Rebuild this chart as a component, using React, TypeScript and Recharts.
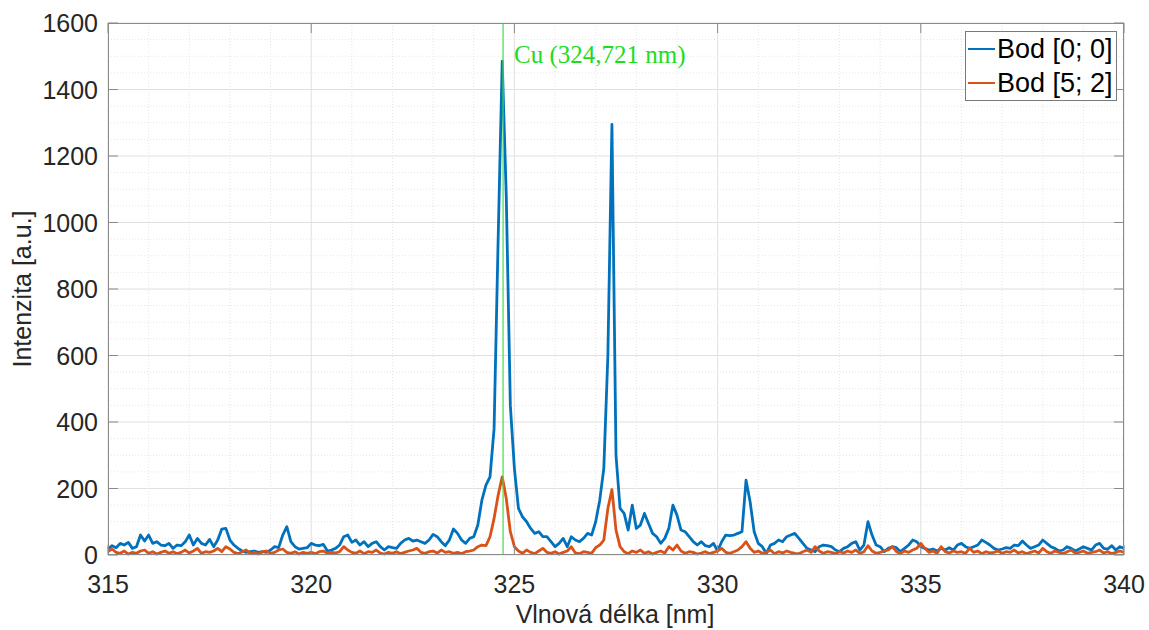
import { CartesianGrid, Line, LineChart, ReferenceLine, XAxis, YAxis } from 'recharts'

// spectrum sampled every 0.1 nm from 315 nm to 340 nm
const START_NM = 315
const STEP_NM = 0.1

const BOD_00 = [
  18, 28, 22, 35, 30, 38, 20, 25, 60, 42, // 315
  60, 35, 40, 30, 28, 35, 20, 30, 28, 40, // 316
  60, 30, 50, 35, 30, 47, 25, 45, 78, 80, // 317
  45, 30, 20, 12, 8, 10, 12, 8, 10, 8, // 318
  15, 25, 22, 60, 85, 40, 25, 18, 20, 22, // 319
  35, 30, 28, 32, 12, 15, 20, 30, 55, 60, // 320
  38, 45, 30, 40, 25, 35, 40, 25, 15, 25, // 321
  22, 20, 35, 45, 50, 42, 45, 40, 35, 45, // 322
  62, 55, 40, 28, 45, 78, 65, 45, 35, 50, // 323
  55, 90, 165, 210, 235, 380, 950, 1485, 1080, 450, // 324
  260, 140, 115, 100, 80, 65, 70, 55, 55, 40, // 325
  25, 35, 50, 25, 55, 45, 40, 50, 65, 60, // 326
  100, 165, 260, 600, 1295, 300, 140, 125, 75, 150, // 327
  80, 90, 125, 95, 65, 55, 35, 50, 80, 150, // 328
  120, 75, 70, 55, 40, 30, 40, 28, 25, 35, // 329
  12, 40, 60, 58, 60, 65, 70, 225, 160, 70, // 330
  35, 25, 5, 30, 35, 45, 40, 55, 60, 65, // 331
  50, 35, 20, 15, 10, 25, 30, 28, 25, 15, // 332
  10, 20, 25, 35, 40, 15, 30, 100, 60, 30, // 333
  25, 10, 20, 25, 22, 10, 20, 30, 45, 40, // 334
  25, 20, 15, 18, 12, 20, 15, 22, 15, 30, // 335
  35, 25, 20, 25, 30, 45, 38, 30, 20, 15, // 336
  18, 22, 20, 30, 28, 42, 30, 20, 25, 30, // 337
  45, 35, 25, 20, 12, 15, 25, 20, 12, 18, // 338
  25, 20, 15, 30, 35, 20, 18, 28, 15, 25, // 339
  20, // 340
]

const BOD_52 = [
  10, 18, 8, 5, 12, 3, 8, 5, 12, 15, // 315
  5, 10, 3, 8, 12, 5, 10, 4, 8, 15, // 316
  6, 12, 20, 5, 10, 8, 12, 20, 10, 25, // 317
  18, 8, 4, 10, 15, 5, 8, 3, 10, 12, // 318
  5, 8, 15, 18, 8, 5, 10, 3, 8, 5, // 319
  8, 4, 10, 12, 5, 8, 6, 10, 25, 15, // 320
  8, 5, 12, 4, 10, 8, 15, 6, 3, 8, // 321
  5, 10, 4, 8, 12, 15, 20, 8, 5, 10, // 322
  12, 6, 15, 8, 10, 5, 8, 4, 10, 12, // 323
  15, 25, 30, 28, 55, 110, 180, 235, 170, 70, // 324
  25, 12, 5, 15, 8, 4, 12, 20, 8, 5, // 325
  10, 3, 8, 12, 25, 6, 4, 10, 8, 5, // 326
  22, 30, 45, 140, 197, 75, 25, 10, 4, 12, // 327
  8, 15, 5, 10, 3, 8, 12, 6, 25, 15, // 328
  30, 12, 5, 10, 8, 3, 6, 10, 4, 8, // 329
  12, 20, 8, 5, 10, 15, 25, 40, 20, 8, // 330
  12, 5, 8, 15, 4, 10, 6, 12, 8, 5, // 331
  4, 10, 15, 8, 25, 12, 5, 10, 8, 4, // 332
  10, 6, 12, 8, 15, 5, 10, 28, 12, 5, // 333
  8, 12, 15, 25, 10, 5, 12, 8, 15, 20, // 334
  35, 20, 8, 12, 5, 25, 10, 6, 12, 8, // 335
  10, 5, 20, 8, 12, 4, 10, 6, 8, 12, // 336
  5, 10, 8, 15, 6, 10, 4, 8, 12, 6, // 337
  20, 10, 5, 12, 8, 4, 10, 15, 6, 8, // 338
  12, 5, 8, 10, 15, 6, 10, 4, 8, 12, // 339
  8, // 340
]

const X_TICKS = [315, 320, 325, 330, 335, 340]
const Y_TICKS = [0, 200, 400, 600, 800, 1000, 1200, 1400, 1600]
const X_MINOR = Array.from({ length: 24 }, (_, i) => 316 + i).filter((v) => v % 5 !== 0)
const Y_MINOR = Array.from({ length: 31 }, (_, i) => 50 + i * 50).filter((v) => v % 200 !== 0)

const CU_NM = 324.721
const CU_LABEL = 'Cu (324,721 nm)'

const SERIES = [
  { key: 'p00', name: 'Bod [0; 0]', color: '#0072BD' },
  { key: 'p52', name: 'Bod [5; 2]', color: '#D95319' },
]

const data = BOD_00.map((v, i) => ({
  nm: Number((START_NM + i * STEP_NM).toFixed(1)),
  p00: v,
  p52: BOD_52[i],
}))

const W = 1149
const H = 630
const PLOT = { left: 108, top: 23, right: 1124, bottom: 555 }
const AXIS = '#8a8a8a'
const TEXT = '#262626'
const FONT = '"Liberation Sans", Arial, sans-serif'

function XTick({ x, payload }: any) {
  return (
    <g>
      <line x1={x} x2={x} y1={PLOT.bottom} y2={PLOT.bottom - 10} stroke={AXIS} />
      <line x1={x} x2={x} y1={PLOT.top} y2={PLOT.top + 10} stroke={AXIS} />
      <text x={x} y={593} textAnchor="middle" fontSize={25} fill={TEXT} fontFamily={FONT}>
        {payload.value}
      </text>
    </g>
  )
}

function YTick({ y, payload }: any) {
  return (
    <g>
      <line x1={PLOT.left} x2={PLOT.left + 10} y1={y} y2={y} stroke={AXIS} />
      <line x1={PLOT.right} x2={PLOT.right - 10} y1={y} y2={y} stroke={AXIS} />
      <text x={98} y={y} dy="0.36em" textAnchor="end" fontSize={25} fill={TEXT} fontFamily={FONT}>
        {payload.value}
      </text>
    </g>
  )
}

export default function App() {
  return (
    <div style={{ position: 'absolute', left: 0, top: 0, width: W, height: H, background: '#fff', fontFamily: FONT }}>
      <LineChart
        width={W}
        height={H}
        data={data}
        margin={{ top: PLOT.top, right: W - PLOT.right, bottom: H - PLOT.bottom - 50, left: PLOT.left - 100 }}
      >
        <CartesianGrid stroke="#e0e0e0" />
        {X_MINOR.map((v) => (
          <ReferenceLine key={'x' + v} x={v} stroke="#e6e6e6" strokeDasharray="1 2" />
        ))}
        {Y_MINOR.map((v) => (
          <ReferenceLine key={'y' + v} y={v} stroke="#e6e6e6" strokeDasharray="1 2" />
        ))}
        <XAxis
          dataKey="nm"
          type="number"
          domain={[315, 340]}
          ticks={X_TICKS}
          interval={0}
          height={50}
          axisLine={false}
          tickLine={false}
          tick={<XTick />}
        />
        <YAxis
          type="number"
          domain={[0, 1600]}
          ticks={Y_TICKS}
          interval={0}
          width={100}
          axisLine={false}
          tickLine={false}
          tick={<YTick />}
        />
        {SERIES.map((s) => (
          <Line
            key={s.key}
            dataKey={s.key}
            name={s.name}
            stroke={s.color}
            strokeWidth={2.8}
            strokeLinejoin="round"
            dot={false}
            type="linear"
            isAnimationActive={false}
          />
        ))}
        <ReferenceLine
          x={CU_NM}
          stroke="#44dd44"
          strokeWidth={1.2}
          label={(props: any) => (
            <text
              x={(props.viewBox?.x ?? 504) + 11}
              y={63}
              fill="#1edc1e"
              fontSize={25}
              fontFamily='"Liberation Serif", "Times New Roman", serif'
            >
              {CU_LABEL}
            </text>
          )}
        />
      </LineChart>

      {/* axes box */}
      <div
        style={{
          position: 'absolute',
          left: PLOT.left,
          top: PLOT.top,
          width: PLOT.right - PLOT.left,
          height: PLOT.bottom - PLOT.top,
          border: `1px solid ${AXIS}`,
          boxSizing: 'border-box',
          pointerEvents: 'none',
        }}
      />

      {/* legend */}
      <div
        style={{
          position: 'absolute',
          left: 965,
          top: 31,
          width: 152,
          height: 70,
          boxSizing: 'border-box',
          border: '1px solid #7a7a7a',
          background: '#fff',
        }}
      >
        {SERIES.map((s) => (
          <div key={s.key} style={{ height: 34, display: 'flex', alignItems: 'center', color: '#000', fontSize: 27 }}>
            <span style={{ display: 'inline-block', width: 27, height: 2.5, background: s.color, marginLeft: 2, marginRight: 2 }} />
            <span style={{ whiteSpace: 'nowrap' }}>{s.name}</span>
          </div>
        ))}
      </div>

      {/* axis titles */}
      <div
        style={{
          position: 'absolute',
          left: 22,
          top: (PLOT.top + PLOT.bottom) / 2,
          transform: 'translate(-50%, -50%) rotate(-90deg)',
          fontSize: 25,
          color: TEXT,
          whiteSpace: 'nowrap',
        }}
      >
        Intenzita [a.u.]
      </div>
      <div
        style={{
          position: 'absolute',
          left: 615,
          top: 614,
          transform: 'translate(-50%, -50%)',
          fontSize: 25,
          color: TEXT,
          whiteSpace: 'nowrap',
        }}
      >
        Vlnová délka [nm]
      </div>
    </div>
  )
}
